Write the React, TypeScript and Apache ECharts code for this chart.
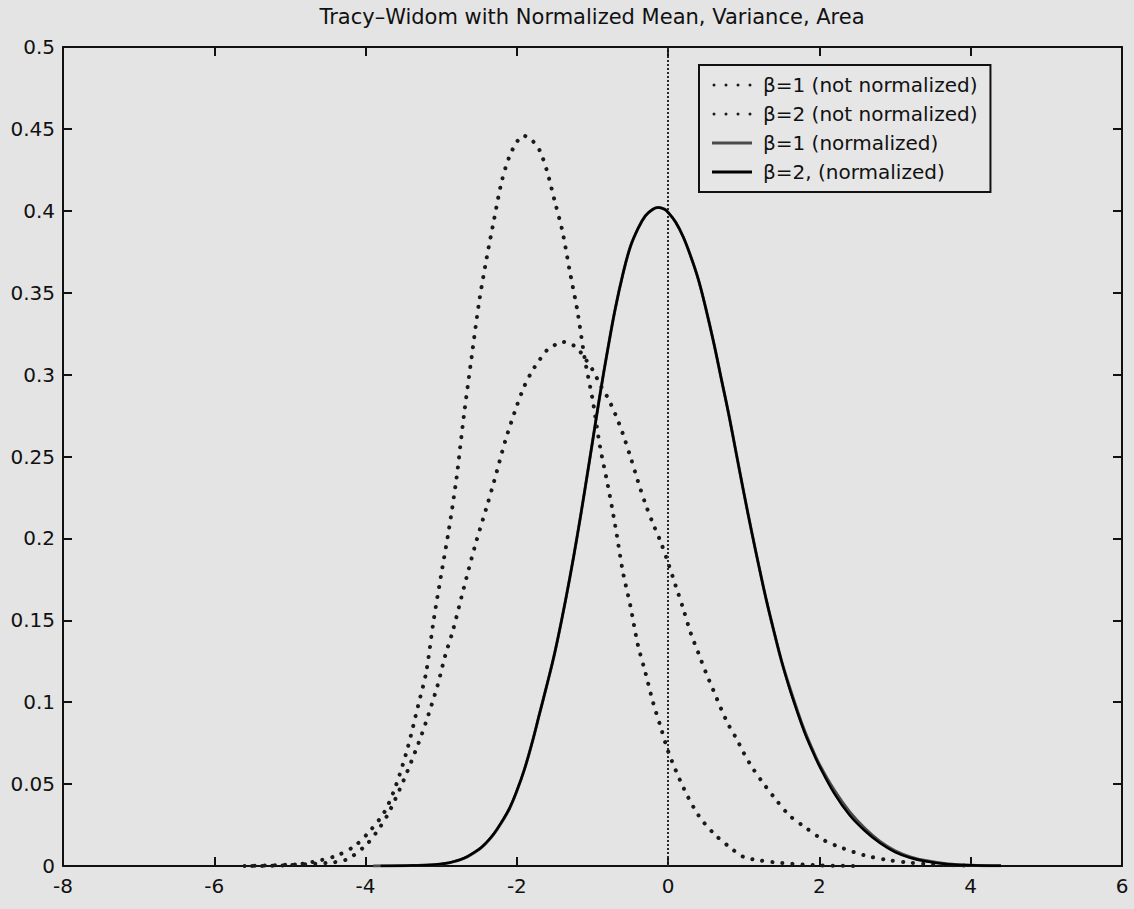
import React, { useEffect, useRef } from "react";
import * as echarts from "echarts";

const titleText = "Tracy–Widom with Normalized Mean, Variance, Area";
const legendNames = [
  "β=1 (not normalized)",
  "β=2 (not normalized)",
  "β=1 (normalized)",
  "β=2, (normalized)",
];

const xMin = -8;
const xMax = 6;
const xStep = 2;
const yMin = 0;
const yMax = 0.5;
const yStep = 0.05;

// β=1, not normalized (dotted)
const tw1Raw: number[][] = [
  [-5.6, 0], [-5.0, 0.0008], [-4.5, 0.0019], [-4.25, 0.004], [-4.0, 0.0125],
  [-3.85, 0.021], [-3.7, 0.032], [-3.5, 0.052], [-3.3, 0.075], [-3.2, 0.088],
  [-3.05, 0.11], [-2.95, 0.128], [-2.85, 0.143], [-2.7, 0.17], [-2.55, 0.196],
  [-2.4, 0.219], [-2.3, 0.235], [-2.15, 0.26], [-2.0, 0.281], [-1.9, 0.293],
  [-1.8, 0.302], [-1.7, 0.309], [-1.6, 0.315], [-1.5, 0.318], [-1.4, 0.32],
  [-1.3, 0.319], [-1.2, 0.316], [-1.1, 0.31], [-1.0, 0.303], [-0.9, 0.294],
  [-0.8, 0.286], [-0.7, 0.276], [-0.6, 0.264], [-0.5, 0.25], [-0.4, 0.235],
  [-0.3, 0.221], [-0.2, 0.209], [-0.1, 0.198], [0, 0.185], [0.1, 0.171],
  [0.2, 0.157], [0.3, 0.142], [0.4, 0.13], [0.5, 0.118], [0.6, 0.107],
  [0.7, 0.096], [0.8, 0.086], [0.9, 0.078], [1.0, 0.069], [1.1, 0.061],
  [1.25, 0.051], [1.4, 0.042], [1.6, 0.031], [1.8, 0.024], [2.05, 0.016],
  [2.3, 0.011], [2.6, 0.0065], [2.9, 0.0037], [3.2, 0.002], [3.5, 0.001],
  [4.0, 0.0002],
];

// β=2, not normalized (dotted)
const tw2Raw: number[][] = [
  [-5.5, 0], [-5.0, 0.0005], [-4.7, 0.0025], [-4.4, 0.006], [-4.15, 0.012],
  [-3.95, 0.021], [-3.75, 0.033], [-3.6, 0.049], [-3.45, 0.071], [-3.3, 0.099],
  [-3.2, 0.118], [-3.1, 0.15], [-3.0, 0.178], [-2.9, 0.205], [-2.8, 0.236],
  [-2.7, 0.275], [-2.6, 0.31], [-2.5, 0.344], [-2.4, 0.371], [-2.3, 0.395],
  [-2.2, 0.418], [-2.1, 0.433], [-2.0, 0.442], [-1.92, 0.446], [-1.8, 0.443],
  [-1.7, 0.437], [-1.6, 0.424], [-1.5, 0.406], [-1.4, 0.388], [-1.3, 0.363],
  [-1.2, 0.339], [-1.1, 0.309], [-1.0, 0.285], [-0.9, 0.256], [-0.8, 0.233],
  [-0.7, 0.208], [-0.6, 0.18], [-0.5, 0.159], [-0.4, 0.135], [-0.3, 0.118],
  [-0.2, 0.1], [-0.1, 0.085], [0, 0.07], [0.2, 0.048], [0.4, 0.031],
  [0.6, 0.02], [0.8, 0.012], [1.0, 0.0055], [1.2, 0.0035], [1.5, 0.0018],
  [2.0, 0.0004], [2.5, 0],
];

// β=1, normalized (solid)
const norm1Raw: number[][] = [
  [-3.9, 0], [-3.4, 0.0003], [-3.1, 0.0007], [-2.9, 0.0019], [-2.7, 0.0046],
  [-2.5, 0.0101], [-2.4, 0.0143], [-2.3, 0.0198], [-2.2, 0.0268], [-2.1, 0.0348],
  [-2.0, 0.0458], [-1.9, 0.059], [-1.8, 0.075], [-1.7, 0.093], [-1.6, 0.111],
  [-1.5, 0.13], [-1.4, 0.152], [-1.3, 0.176], [-1.2, 0.202], [-1.1, 0.23],
  [-1.0, 0.259], [-0.9, 0.288], [-0.8, 0.315], [-0.7, 0.34], [-0.6, 0.361],
  [-0.5, 0.378], [-0.4, 0.389], [-0.3, 0.397], [-0.2, 0.401], [-0.13, 0.402],
  [-0.05, 0.401], [0, 0.399], [0.1, 0.393], [0.2, 0.384], [0.3, 0.372],
  [0.4, 0.358], [0.5, 0.34], [0.6, 0.32], [0.7, 0.298], [0.8, 0.276],
  [0.9, 0.252], [1.0, 0.228], [1.1, 0.205], [1.2, 0.183], [1.3, 0.162],
  [1.4, 0.143], [1.5, 0.125], [1.6, 0.11], [1.7, 0.096], [1.8, 0.083],
  [1.9, 0.072], [2.0, 0.062], [2.2, 0.046], [2.4, 0.033], [2.6, 0.023],
  [2.8, 0.015], [3.0, 0.0093], [3.2, 0.0056], [3.4, 0.0033], [3.7, 0.0013],
  [4.0, 0.0005], [4.4, 0.0001],
];

// β=2, normalized (solid)
const norm2Raw: number[][] = [
  [-3.8, 0], [-3.4, 0.0003], [-3.1, 0.0008], [-2.9, 0.002], [-2.7, 0.0048],
  [-2.5, 0.0103], [-2.4, 0.0145], [-2.3, 0.02], [-2.2, 0.027], [-2.1, 0.035],
  [-2.0, 0.046], [-1.9, 0.059], [-1.8, 0.075], [-1.7, 0.093], [-1.6, 0.111],
  [-1.5, 0.13], [-1.4, 0.152], [-1.3, 0.176], [-1.2, 0.202], [-1.1, 0.23],
  [-1.0, 0.259], [-0.9, 0.288], [-0.8, 0.315], [-0.7, 0.34], [-0.6, 0.361],
  [-0.5, 0.378], [-0.4, 0.389], [-0.3, 0.397], [-0.2, 0.401], [-0.13, 0.402],
  [-0.05, 0.401], [0, 0.399], [0.1, 0.393], [0.2, 0.384], [0.3, 0.372],
  [0.4, 0.358], [0.5, 0.34], [0.6, 0.32], [0.7, 0.298], [0.8, 0.276],
  [0.9, 0.252], [1.0, 0.228], [1.1, 0.205], [1.2, 0.183], [1.3, 0.162],
  [1.4, 0.143], [1.5, 0.125], [1.6, 0.109], [1.7, 0.095], [1.8, 0.082],
  [1.9, 0.071], [2.0, 0.061], [2.2, 0.044], [2.4, 0.031], [2.6, 0.0215],
  [2.8, 0.014], [3.0, 0.0085], [3.2, 0.005], [3.4, 0.0029], [3.7, 0.0011],
  [4.0, 0.0004], [4.4, 0.0001],
];

const FONT = "DejaVu Sans";
const INK = "#111111";

const dotPart = (cx: number) =>
  `M${cx},1.5a1.5,1.5 0 1,0 3,0a1.5,1.5 0 1,0 -3,0z`;
const dotIcon = "path://" + [0, 12, 24, 36].map(dotPart).join("");

export default function App() {
  const ref = useRef<HTMLDivElement>(null);

  useEffect(() => {
    if (!ref.current) return;
    const chart = echarts.init(ref.current, null, { renderer: "svg" });

    const axisLine = { show: true, onZero: false, lineStyle: { color: INK, width: 2 } };
    const axisTick = { show: true, inside: true, length: 9, lineStyle: { color: INK, width: 2 } };
    const labelStyle = { color: INK, fontSize: 20, fontFamily: FONT };

    const xBase = { type: "value", min: xMin, max: xMax, interval: xStep, splitLine: { show: false } };
    const yBase = { type: "value", min: yMin, max: yMax, interval: yStep, splitLine: { show: false } };

    const dotted = (w: number) => ({ type: [0.1, 10], cap: "round", width: w, color: "#1a1a1a" });

    chart.setOption({
      animation: false,
      backgroundColor: "#e4e4e4",
      grid: { left: 63, right: 12, top: 47, bottom: 43, containLabel: false },
      graphic: [
        {
          type: "text",
          x: 592,
          y: 17,
          style: {
            text: titleText,
            fontSize: 21,
            fontFamily: FONT,
            fill: INK,
            align: "center",
            verticalAlign: "middle",
            textAlign: "center",
            textVerticalAlign: "middle",
          },
        },
      ],
      legend: {
        orient: "vertical",
        left: 699,
        top: 65,
        itemWidth: 40,
        itemHeight: 3,
        itemGap: 7,
        padding: [9, 13, 9, 13],
        borderColor: INK,
        borderWidth: 2,
        borderRadius: 0,
        backgroundColor: "#e6e6e6",
        textStyle: { fontFamily: FONT, fontSize: 20, color: INK, lineHeight: 22, padding: [0, 0, 0, 6] },
        data: [
          { name: legendNames[0], icon: dotIcon },
          { name: legendNames[1], icon: dotIcon },
          { name: legendNames[2], icon: "rect" },
          { name: legendNames[3], icon: "rect" },
        ],
      },
      xAxis: [
        {
          ...xBase,
          position: "bottom",
          axisLine,
          axisTick,
          axisLabel: { ...labelStyle, margin: 10, formatter: (v: number) => String(v) },
        },
        {
          ...xBase,
          position: "top",
          axisLine,
          axisTick,
          axisLabel: { show: false },
        },
      ],
      yAxis: [
        {
          ...yBase,
          position: "left",
          axisLine,
          axisTick,
          axisLabel: { ...labelStyle, margin: 8, formatter: (v: number) => String(+v.toFixed(2)) },
        },
        {
          ...yBase,
          position: "right",
          axisLine,
          axisTick,
          axisLabel: { show: false },
        },
      ],
      series: [
        {
          name: legendNames[0],
          type: "line",
          data: tw1Raw,
          symbol: "none",
          smooth: 0.3,
          lineStyle: dotted(4),
          itemStyle: { color: "#1a1a1a" },
          markLine: {
            silent: true,
            symbol: "none",
            label: { show: false },
            lineStyle: { type: [2, 2], width: 2, color: "#2a2a2a" },
            data: [{ xAxis: 0 }],
          },
          z: 3,
        },
        {
          name: legendNames[1],
          type: "line",
          data: tw2Raw,
          symbol: "none",
          smooth: 0.3,
          lineStyle: dotted(4),
          itemStyle: { color: "#1a1a1a" },
          z: 3,
        },
        {
          name: legendNames[2],
          type: "line",
          data: norm1Raw,
          symbol: "none",
          smooth: 0.4,
          lineStyle: { width: 3, color: "#4a4a4a" },
          itemStyle: { color: "#4a4a4a" },
          z: 4,
        },
        {
          name: legendNames[3],
          type: "line",
          data: norm2Raw,
          symbol: "none",
          smooth: 0.4,
          lineStyle: { width: 2.5, color: "#000000" },
          itemStyle: { color: "#000000" },
          z: 5,
        },
      ],
    });

    return () => chart.dispose();
  }, []);

  return (
    <div
      ref={ref}
      style={{ position: "absolute", left: 0, top: 0, width: 1134, height: 909 }}
    />
  );
}
